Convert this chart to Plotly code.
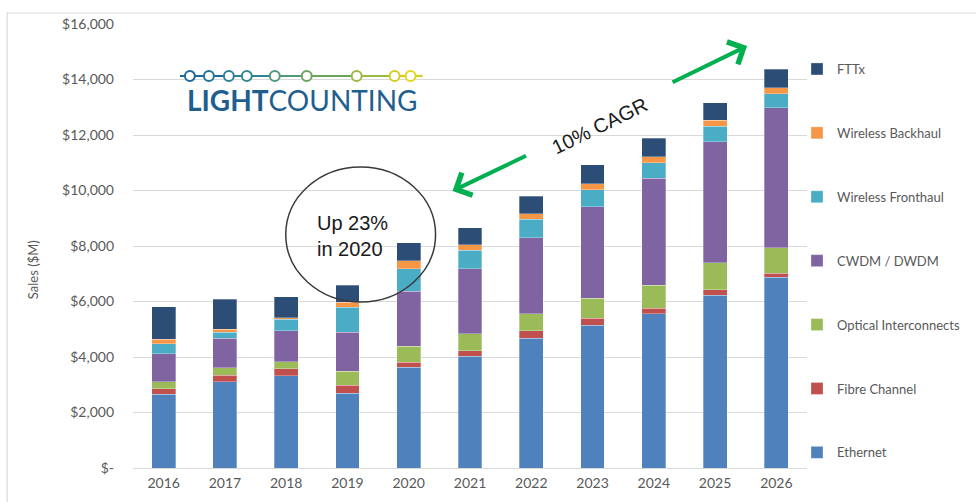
import plotly.graph_objects as go

years = ["2016", "2017", "2018", "2019", "2020", "2021", "2022", "2023", "2024", "2025", "2026"]
ethernet = [2660, 3110, 3330, 2690, 3630, 4020, 4680, 5140, 5560, 6220, 6880]
fibre_channel = [190, 240, 240, 300, 180, 200, 260, 250, 190, 210, 140]
optical_interconnects = [260, 260, 260, 490, 580, 620, 620, 720, 830, 970, 920]
cwdm_dwdm = [1010, 1060, 1110, 1410, 1980, 2340, 2740, 3310, 3860, 4360, 5040]
wireless_fronthaul = [360, 220, 420, 900, 810, 660, 660, 610, 560, 560, 510]
wireless_backhaul = [160, 110, 60, 180, 290, 210, 210, 220, 210, 220, 210]
fttx = [1170, 1080, 750, 610, 640, 610, 620, 670, 670, 620, 670]

series_names = ["Ethernet", "Fibre Channel", "Optical Interconnects", "CWDM / DWDM",
                "Wireless Fronthaul", "Wireless Backhaul", "FTTx"]
series_values = [ethernet, fibre_channel, optical_interconnects, cwdm_dwdm,
                 wireless_fronthaul, wireless_backhaul, fttx]
series_colors = ["#4f81bd", "#c0504d", "#9bbb59", "#8064a2", "#4bacc6", "#f79646", "#2c4d75"]

y_tickvals = [0, 2000, 4000, 6000, 8000, 10000, 12000, 14000, 16000]
y_ticktext = ["$-", "$2,000", "$4,000", "$6,000", "$8,000", "$10,000", "$12,000", "$14,000", "$16,000"]

fig = go.Figure()
n = len(series_names)
for i, (name, vals, col) in enumerate(zip(series_names, series_values, series_colors)):
    fig.add_trace(go.Bar(
        x=years, y=vals, name=name, legendgroup=name, legendrank=n - i,
        marker=dict(color=col, line=dict(color="rgba(255,255,255,0.5)", width=0.6)),
    ))

# plot area in pixels: x 133..808, y 24..468
L, R, T, B = 133, 808, 24, 468
def px(x):
    return (x - L) / (R - L)
def py(y):
    return (B - y) / (B - T)

grey = "#595959"
fig.update_layout(
    width=976, height=502,
    margin=dict(l=L, r=976 - R, t=T, b=502 - B),
    barmode="stack", bargap=0.61,
    plot_bgcolor="white", paper_bgcolor="white",
    font=dict(family="Lato, sans-serif", size=14, color=grey),
    showlegend=True,
    legend=dict(
        traceorder="grouped", tracegroupgap=44,
        x=px(797), xanchor="left", y=py(54), yanchor="top",
        font=dict(family="Lato, sans-serif", size=13, color=grey),
        itemwidth=30, bgcolor="rgba(0,0,0,0)",
    ),
    xaxis=dict(showgrid=False, showline=False, ticks="", tickfont=dict(size=14, color=grey),
               ticklabelstandoff=5),
    yaxis=dict(range=[0, 16000], tickvals=y_tickvals, ticktext=y_ticktext,
               showgrid=True, gridcolor="#d9d9d9", gridwidth=1,
               zeroline=True, zerolinecolor="#d9d9d9", zerolinewidth=1,
               showline=False, ticks="", tickfont=dict(size=14, color=grey),
               ticklabelstandoff=18),
)

shapes = []
# outer frame
shapes.append(dict(type="rect", xref="paper", yref="paper",
                   x0=px(7), x1=px(990), y0=py(520), y1=py(13),
                   line=dict(color="#d9d9d9", width=1.2), fillcolor="rgba(0,0,0,0)", layer="below"))
# ellipse
shapes.append(dict(type="circle", xref="paper", yref="paper",
                   x0=px(286), x1=px(436), y0=py(302), y1=py(167),
                   line=dict(color="#3a3a3a", width=1.5), fillcolor="rgba(0,0,0,0)"))

# logo: line with gradient colours and rings
logo_stops = [(180, "#1d6a9c"), (230, "#2c8496"), (275, "#4f9a78"), (307, "#6aa55c"),
              (357, "#9fb845"), (395, "#d3cc25"), (423, "#e6dc10")]
for (xa, ca), (xb, cb) in zip(logo_stops[:-1], logo_stops[1:]):
    shapes.append(dict(type="line", xref="paper", yref="paper",
                       x0=px(xa), x1=px(xb), y0=py(76), y1=py(76),
                       line=dict(color=ca, width=2.2)))
ring_x = [190, 209, 229, 247, 275, 307, 357, 395, 411]
ring_c = ["#1d6a9c", "#22739c", "#2a7f98", "#338990", "#4f9a78", "#6aa55c", "#9fb845", "#d3cc25", "#e3d818"]
for rx, rc in zip(ring_x, ring_c):
    shapes.append(dict(type="circle", xref="paper", yref="paper",
                       x0=px(rx - 5), x1=px(rx + 5), y0=py(81), y1=py(71),
                       line=dict(color=rc, width=2), fillcolor="white"))
fig.update_layout(shapes=shapes)

ann = []
ann.append(dict(text="<b>LIGHT</b>COUNTING", xref="paper", yref="paper",
                x=px(302), y=py(100), xanchor="center", yanchor="middle", showarrow=False,
                font=dict(family="Lato, sans-serif", size=28, color="#1f5f8f")))
ann.append(dict(text="Sales ($M)", xref="paper", yref="paper", x=px(33), y=py(270),
                xanchor="center", yanchor="middle",
                textangle=-90, showarrow=False, font=dict(size=13, color=grey)))
ann.append(dict(text="Up 23%<br>in 2020", xref="paper", yref="paper", x=px(315), y=py(236),
                xanchor="left", yanchor="middle", align="left", showarrow=False,
                font=dict(family="Liberation Sans, Arial", size=20, color="#1a1a1a")))
ann.append(dict(text="10% CAGR", xref="paper", yref="paper", x=px(600), y=py(126),
                xanchor="center", yanchor="middle",
                textangle=-26, showarrow=False,
                font=dict(family="Liberation Sans, Arial", size=20, color="#1a1a1a")))
ann.append(dict(text="", xref="paper", yref="paper", x=px(453), y=py(191),
                ax=75, ay=-36, showarrow=True, arrowhead=4, arrowsize=1.2,
                arrowwidth=4, arrowcolor="#00b050"))
ann.append(dict(text="", xref="paper", yref="paper", x=px(748), y=py(46),
                ax=-76, ay=37, showarrow=True, arrowhead=4, arrowsize=1.2,
                arrowwidth=4, arrowcolor="#00b050"))
fig.update_layout(annotations=ann)

fig.write_html("out.html", config={"displayModeBar": False},
               post_script="document.body.style.margin='0';document.body.style.padding='0';")
